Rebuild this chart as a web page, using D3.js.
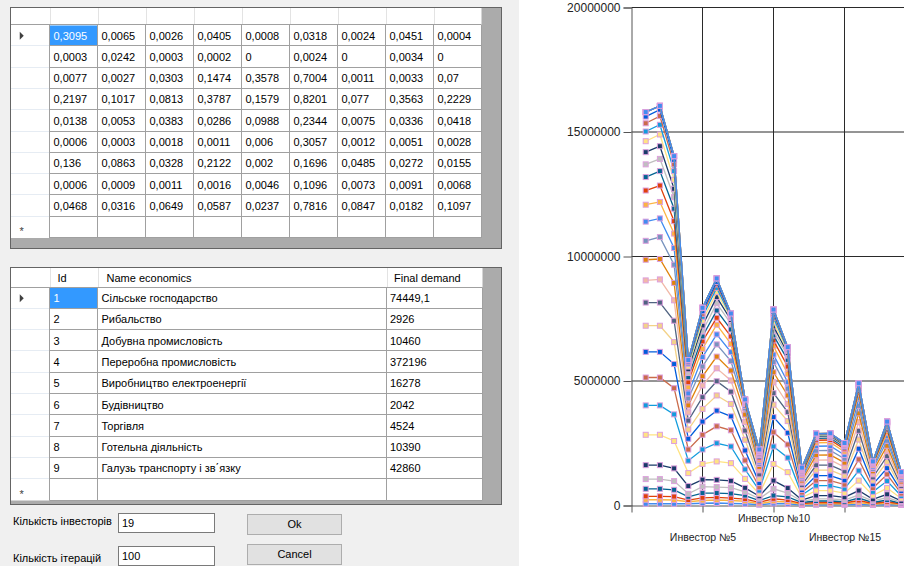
<!DOCTYPE html>
<html>
<head>
<meta charset="utf-8">
<script src="https://cdn.jsdelivr.net/npm/d3@7"></script>
<style>
  body { margin: 0; background: #f0f0f0; overflow: hidden; }
  svg { display: block; font-family: "Liberation Sans", Arial, sans-serif; }
</style>
</head>
<body>
<svg id="form" width="904" height="566"></svg>
<script>
// coefficient matrix (top grid)
var coefficients = [
  [0.3095, 0.0065, 0.0026, 0.0405, 0.0008, 0.0318, 0.0024, 0.0451, 0.0004],
  [0.0003, 0.0242, 0.0003, 0.0002, 0, 0.0024, 0, 0.0034, 0],
  [0.0077, 0.0027, 0.0303, 0.1474, 0.3578, 0.7004, 0.0011, 0.0033, 0.07],
  [0.2197, 0.1017, 0.0813, 0.3787, 0.1579, 0.8201, 0.077, 0.3563, 0.2229],
  [0.0138, 0.0053, 0.0383, 0.0286, 0.0988, 0.2344, 0.0075, 0.0336, 0.0418],
  [0.0006, 0.0003, 0.0018, 0.0011, 0.006, 0.3057, 0.0012, 0.0051, 0.0028],
  [0.136, 0.0863, 0.0328, 0.2122, 0.002, 0.1696, 0.0485, 0.0272, 0.0155],
  [0.0006, 0.0009, 0.0011, 0.0016, 0.0046, 0.1096, 0.0073, 0.0091, 0.0068],
  [0.0468, 0.0316, 0.0649, 0.0587, 0.0237, 0.7816, 0.0847, 0.0182, 0.1097]
];

// economy sectors (bottom grid)
var sectorIds = [1, 2, 3, 4, 5, 6, 7, 8, 9];
var sectorNames = [
  'Сільське господарство', 'Рибальство', 'Добувна промисловість',
  'Переробна промисловість', 'Виробництво електроенергії', 'Будівництво',
  'Торгівля', 'Готельна діяльність', 'Галузь транспорту і зв΄язку'
];
var finalDemand = ['74449,1', '2926', '10460', '372196', '16278', '2042', '4524', '10390', '42860'];

var investorCount = 19;
var iterationCount = 100;

var investorLabels = d3.range(1, 20).map(i => 'Инвестор №' + i);

// chart values in millions: one list per investor, one entry per plotted series (bottom -> top)
var stackByInvestor = [
  [0.07,0.23,0.37,0.67,1.06,1.62,2.84,4.02,5.14,6.17,7.22,8.15,9.04,9.87,10.63,11.4,12.08,12.65,13.19,13.7,14.19,14.63,15.02,15.35,15.62,15.8,15.8,15.8,15.8,15.8,15.8],
  [0.07,0.23,0.37,0.67,1.06,1.62,2.84,4.02,5.14,6.17,7.22,8.15,9.08,9.9,10.78,11.53,12.19,12.85,13.43,13.92,14.43,14.9,15.29,15.64,15.9,16.05,16.05,16.05,16.05,16.05,16.05],
  [0.07,0.22,0.36,0.63,0.98,1.49,2.59,3.66,4.71,5.68,6.56,7.42,8.24,8.94,9.67,10.34,10.92,11.42,11.92,12.38,12.72,13.08,13.43,13.7,13.88,14.03,14.03,14.03,14.03,14.03,14.03],
  [0.07,0.15,0.22,0.35,0.47,0.78,1.3,1.8,2.25,2.68,3.05,3.41,3.74,4.02,4.3,4.5,4.75,4.95,5.15,5.32,5.47,5.58,5.68,5.74,5.78,5.84,5.84,5.84,5.84,5.84,5.84],
  [0.09,0.2,0.31,0.5,0.76,1.04,1.67,2.25,2.84,3.37,3.88,4.35,4.82,5.19,5.58,5.96,6.29,6.59,6.79,7.0,7.23,7.42,7.58,7.7,7.8,7.94,7.94,7.94,7.94,7.94,7.94],
  [0.1,0.22,0.33,0.5,0.74,1.03,1.77,2.5,3.18,3.81,4.42,4.99,5.51,5.98,6.47,6.87,7.26,7.54,7.83,8.12,8.37,8.57,8.74,8.88,8.98,9.12,9.12,9.12,9.12,9.12,9.12],
  [0.08,0.2,0.3,0.48,0.72,0.99,1.7,2.37,3.02,3.58,4.08,4.57,5.02,5.42,5.8,6.16,6.49,6.79,7.07,7.3,7.45,7.53,7.58,7.62,7.65,7.71,7.71,7.71,7.71,7.71,7.71],
  [0.07,0.17,0.26,0.4,0.55,0.71,1.07,1.45,1.81,2.21,2.64,3.01,3.35,3.65,3.9,4.0,4.07,4.12,4.16,4.19,4.21,4.22,4.23,4.23,4.24,4.26,4.26,4.26,4.26,4.26,4.26],
  [0.03,0.07,0.13,0.2,0.27,0.37,0.47,0.6,0.73,0.9,1.07,1.25,1.41,1.55,1.67,1.75,1.81,1.9,1.97,2.03,2.08,2.12,2.15,2.18,2.2,2.25,2.25,2.25,2.25,2.25,2.25],
  [0.08,0.17,0.27,0.4,0.67,1.0,1.67,2.37,2.94,3.55,4.05,4.51,4.95,5.35,5.76,6.06,6.4,6.63,6.83,7.0,7.19,7.36,7.54,7.68,7.76,7.87,7.87,7.87,7.87,7.87,7.87],
  [0.07,0.14,0.22,0.35,0.5,0.7,1.34,1.92,2.45,2.92,3.39,3.75,4.08,4.42,4.69,4.95,5.29,5.58,5.85,6.02,6.12,6.2,6.26,6.3,6.32,6.36,6.36,6.36,6.36,6.36,6.36],
  [0.02,0.05,0.08,0.12,0.17,0.22,0.32,0.42,0.52,0.62,0.72,0.82,0.92,1.0,1.08,1.14,1.2,1.26,1.3,1.34,1.38,1.42,1.45,1.47,1.49,1.52,1.52,1.52,1.52,1.52,1.52],
  [0.03,0.07,0.12,0.18,0.27,0.4,0.6,0.8,1.0,1.2,1.42,1.62,1.82,2.02,2.2,2.38,2.52,2.62,2.7,2.75,2.79,2.82,2.84,2.85,2.86,2.89,2.89,2.89,2.89,2.89,2.89],
  [0.03,0.07,0.12,0.18,0.27,0.4,0.6,0.8,1.0,1.2,1.42,1.62,1.83,2.03,2.21,2.39,2.53,2.63,2.71,2.76,2.8,2.83,2.85,2.86,2.87,2.9,2.9,2.9,2.9,2.9,2.9],
  [0.03,0.06,0.1,0.15,0.22,0.33,0.5,0.67,0.84,1.01,1.19,1.37,1.54,1.72,1.88,2.03,2.16,2.26,2.33,2.38,2.42,2.45,2.47,2.48,2.49,2.51,2.51,2.51,2.51,2.51,2.51],
  [0.05,0.12,0.2,0.3,0.42,0.6,1.0,1.4,1.85,2.28,2.65,3.0,3.35,3.7,4.0,4.3,4.5,4.62,4.7,4.76,4.8,4.83,4.85,4.86,4.87,4.91,4.91,4.91,4.91,4.91,4.91],
  [0.02,0.05,0.08,0.12,0.18,0.25,0.4,0.55,0.7,0.85,1.0,1.13,1.25,1.37,1.47,1.55,1.61,1.66,1.69,1.72,1.73,1.74,1.75,1.76,1.76,1.77,1.77,1.77,1.77,1.77,1.77],
  [0.04,0.09,0.15,0.22,0.32,0.45,0.7,0.98,1.25,1.5,1.75,1.98,2.2,2.4,2.6,2.78,2.93,3.05,3.14,3.21,3.26,3.3,3.32,3.34,3.35,3.37,3.37,3.37,3.37,3.37,3.37],
  [0.02,0.04,0.06,0.09,0.13,0.18,0.28,0.38,0.48,0.58,0.68,0.78,0.87,0.96,1.04,1.11,1.17,1.22,1.26,1.29,1.31,1.32,1.33,1.33,1.34,1.34,1.34,1.34,1.34,1.34,1.34]
];

var yTicks = [0, 5000000, 10000000, 15000000, 20000000];
var xLabelTicks = [5, 10, 15];

// MS Chart "BrightPastel"
var palette = ['#418CF0', '#FCB441', '#E0400A', '#056492', '#BFBFBF', '#1A3B69', '#FFE382', '#129CDD',
  '#CA6B4B', '#005CDB', '#F3D288', '#506381', '#F1B9A8', '#E0830A', '#7893BE'];

var svg = d3.select('#form');

svg.append('rect')
  .attr('x', 519).attr('y', 0)
  .attr('width', 385).attr('height', 566)
  .attr('fill', '#fff');

var fmt = v => String(v).replace('.', ',');

function dataGrid(cfg) {
  var g = svg.append('g').attr('transform', `translate(${cfg.x},${cfg.y})`);
  var colX = [cfg.rowHeaderW];
  cfg.colWidths.forEach(w => colX.push(colX[colX.length - 1] + w));
  var right = colX[colX.length - 1];
  var nRows = cfg.rows.length + 1;
  var rowTop = i => cfg.headerH + i * cfg.rowH;

  g.append('rect')
    .attr('x', 0.5).attr('y', 0.5)
    .attr('width', cfg.width - 1).attr('height', cfg.height - 1)
    .attr('fill', '#ababab')
    .attr('stroke', '#646464');

  // header row + row headers + cells
  g.append('rect')
    .attr('x', 1).attr('y', 1)
    .attr('width', right - 1).attr('height', rowTop(nRows) - 1)
    .attr('fill', '#fff');

  if (cfg.selected) {
    g.append('rect')
      .attr('x', colX[0] + 0.5).attr('y', rowTop(0) + 0.5)
      .attr('width', cfg.colWidths[0] - 1).attr('height', cfg.rowH - 1)
      .attr('fill', '#3399ff');
  }

  // light separators in header / row header
  g.selectAll('.hsep')
    .data(colX.slice(0, -1))
    .enter().append('line')
      .attr('x1', d => Math.round(d) + 0.5).attr('x2', d => Math.round(d) + 0.5)
      .attr('y1', 1).attr('y2', cfg.headerH)
      .attr('stroke', '#e3e3e3');
  g.selectAll('.rsep')
    .data(d3.range(1, nRows))
    .enter().append('line')
      .attr('x1', 1).attr('x2', cfg.rowHeaderW)
      .attr('y1', d => Math.round(rowTop(d)) - 0.5).attr('y2', d => Math.round(rowTop(d)) - 0.5)
      .attr('stroke', '#e6ecf3');

  // cell grid lines
  g.selectAll('.vline')
    .data(colX)
    .enter().append('line')
      .attr('x1', d => Math.round(d) - 0.5).attr('x2', d => Math.round(d) - 0.5)
      .attr('y1', cfg.headerH).attr('y2', rowTop(nRows))
      .attr('stroke', '#a0a0a0');
  g.selectAll('.hline')
    .data(d3.range(0, nRows + 1))
    .enter().append('line')
      .attr('x1', d => d === 0 ? 1 : cfg.rowHeaderW).attr('x2', right)
      .attr('y1', d => Math.round(rowTop(d)) - 0.5).attr('y2', d => Math.round(rowTop(d)) - 0.5)
      .attr('stroke', '#a0a0a0');

  g.selectAll('.head')
    .data(cfg.headers)
    .enter().append('text')
      .attr('x', (d, i) => colX[i] + cfg.headPad[i])
      .attr('y', cfg.headerH / 2 + 1)
      .attr('dy', '0.35em')
      .attr('font-size', 11)
      .attr('fill', '#000')
      .text(d => d);

  cfg.rows.forEach((row, r) => {
    g.selectAll('.r' + r)
      .data(row)
      .enter().append('text')
        .attr('x', (d, i) => colX[i] + cfg.cellPad[i])
        .attr('y', rowTop(r) + cfg.rowH / 2)
        .attr('dy', '0.35em')
        .attr('font-size', 11)
        .attr('fill', (d, i) => cfg.selected && r === 0 && i === 0 ? '#fff' : '#000')
        .text(d => d);
  });

  // current row arrow, new row star
  var ay = rowTop(0) + cfg.rowH / 2;
  g.append('path')
    .attr('d', `M${cfg.rowHeaderW / 2 - 10},${ay - 4}L${cfg.rowHeaderW / 2 - 6},${ay}L${cfg.rowHeaderW / 2 - 10},${ay + 4}Z`)
    .attr('fill', '#404040');
  g.append('text')
    .attr('x', cfg.rowHeaderW / 2 - 8)
    .attr('y', rowTop(nRows - 1) + cfg.rowH / 2 + 4)
    .attr('dy', '0.35em')
    .attr('text-anchor', 'middle')
    .attr('font-size', 11)
    .attr('fill', '#404040')
    .text('*');
}

dataGrid({
  x: 10, y: 7, width: 492, height: 242,
  rowHeaderW: 39.5, colWidths: d3.range(9).map(() => 48),
  headerH: 18, rowH: 21.3,
  headers: d3.range(9).map(() => ''),
  headPad: d3.range(9).map(() => 4),
  cellPad: d3.range(9).map(() => 4),
  rows: coefficients.map(r => r.map(fmt)),
  selected: true
});

dataGrid({
  x: 10, y: 267, width: 492, height: 238,
  rowHeaderW: 39.5, colWidths: [48, 289.5, 95.5],
  headerH: 20.5, rowH: 21.3,
  headers: ['Id', 'Name economics', 'Final demand'],
  headPad: [8, 9, 7],
  cellPad: [4, 4, 3],
  rows: sectorIds.map((id, i) => [String(id), sectorNames[i], finalDemand[i]]),
  selected: true
});

// form controls
var controls = svg.append('g').attr('font-size', 11);
[['Кількість інвесторів', investorCount, 513], ['Кількість ітерацій', iterationCount, 546]].forEach(([label, val, top]) => {
  controls.append('text')
    .attr('x', 13).attr('y', top + 8 + (top > 520 ? 4 : 0))
    .attr('dy', '0.35em')
    .text(label);
  controls.append('rect')
    .attr('x', 118.5).attr('y', top + 0.5)
    .attr('width', 96).attr('height', 19)
    .attr('fill', '#fff').attr('stroke', '#7a7a7a');
  controls.append('text')
    .attr('x', 122).attr('y', top + 10)
    .attr('dy', '0.35em')
    .text(val);
});
[['Ok', 514], ['Cancel', 544]].forEach(([label, top]) => {
  controls.append('rect')
    .attr('x', 247.5).attr('y', top + 0.5)
    .attr('width', 94).attr('height', 20)
    .attr('fill', '#e1e1e1').attr('stroke', '#adadad');
  controls.append('text')
    .attr('x', 294.5).attr('y', top + 10.5)
    .attr('dy', '0.35em')
    .attr('text-anchor', 'middle')
    .text(label);
});

/*
 * Chart
 */
var x = d3.scaleLinear()
  .domain([0, 20])
  .range([631.5, 915.5]);

var y = d3.scaleLinear()
  .domain([0, 20000000])
  .range([505.5, 7.5]);

var chart = svg.append('g');

chart.append('g')
  .selectAll('line')
  .data(yTicks.slice(1))
  .enter().append('line')
    .attr('x1', x(0)).attr('x2', x(20))
    .attr('y1', d => y(d)).attr('y2', d => y(d))
    .attr('stroke', '#2a2a2a');

chart.append('g')
  .selectAll('line')
  .data(xLabelTicks)
  .enter().append('line')
    .attr('x1', d => x(d)).attr('x2', d => x(d))
    .attr('y1', y(20000000)).attr('y2', y(0))
    .attr('stroke', '#2a2a2a');

var yAxis = d3.axisLeft(y)
  .tickValues(yTicks)
  .tickSize(8)
  .tickPadding(3)
  .tickFormat(d3.format('d'));

var gY = chart.append('g')
  .attr('transform', `translate(${x(0)},0)`)
  .call(yAxis);
gY.select('.domain').attr('stroke', '#555');
gY.selectAll('.tick line').attr('stroke', '#555');
gY.selectAll('text')
  .attr('font-family', '"Liberation Sans", Arial, sans-serif')
  .attr('font-size', 12)
  .attr('fill', '#222');

var xAxis = d3.axisBottom(x)
  .tickValues([0].concat(xLabelTicks))
  .tickSize(7)
  .tickSizeOuter(0)
  .tickFormat(d => d ? investorLabels[d - 1] : '');

var gX = chart.append('g')
  .attr('transform', `translate(0,${y(0)})`)
  .call(xAxis);
gX.select('.domain').attr('stroke', '#555');
gX.selectAll('.tick line').attr('stroke', '#555');
gX.selectAll('text')
  .attr('font-family', '"Liberation Sans", Arial, sans-serif')
  .attr('font-size', 10.5)
  .attr('fill', '#222')
  .attr('y', (d, i) => d === 10 ? 9 : 28);

var seriesCount = stackByInvestor[0].length;
var series = d3.range(seriesCount).map(s =>
  stackByInvestor.map((col, i) => ({inv: i + 1, value: col[s] * 1000000})));

var line = d3.line()
  .x(d => x(d.inv))
  .y(d => y(d.value));

var plot = chart.append('g');
series.forEach((data, s) => {
  var color = palette[s % palette.length];
  var g = plot.append('g').attr('class', 'series' + s);
  g.append('path')
    .datum(data)
    .attr('d', line)
    .attr('fill', 'none')
    .attr('stroke', color)
    .attr('stroke-width', 1.3);
  g.selectAll('rect')
    .data(data)
    .enter().append('rect')
      .attr('x', d => x(d.inv) - 2.5)
      .attr('y', d => y(d.value) - 2.5)
      .attr('width', 5)
      .attr('height', 5)
      .attr('fill', color)
      .attr('stroke', '#DDA0DD')
      .attr('stroke-width', 1);
});
</script>
</body>
</html>
